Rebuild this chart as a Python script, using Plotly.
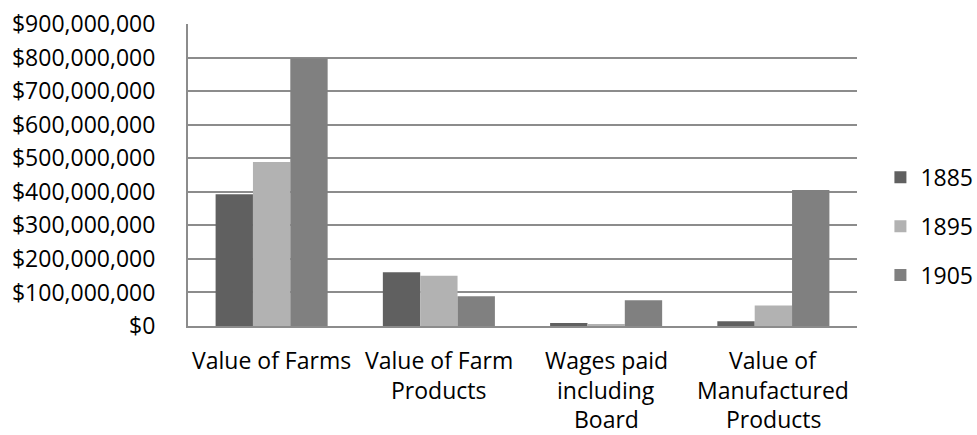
import plotly.graph_objects as go

categories = ["Value of Farms", "Value of Farm Products", "Wages paid including Board", "Value of Manufactured Products"]
label_lines = [["Value of Farms"], ["Value of Farm", "Products"], ["Wages paid", "including", "Board"], ["Value of", "Manufactured", "Products"]]
years = ["1885", "1895", "1905"]
values_1885 = [393_000_000, 160_000_000, 9_000_000, 14_000_000]
values_1895 = [489_000_000, 150_000_000, 6_000_000, 61_000_000]
values_1905 = [797_000_000, 89_000_000, 77_000_000, 405_000_000]
colors = ["#606060", "#b2b2b2", "#808080"]
y_ticks = list(range(0, 900_000_001, 100_000_000))

FONT = "Open Sans"
line_shifts = [-34, -64, -93]
fig = go.Figure()
for i, (yr, vals) in enumerate(zip(years, [values_1885, values_1895, values_1905])):
    fig.add_trace(go.Bar(x=categories, y=vals, name=yr, marker=dict(color=colors[i], line=dict(width=0)),
                         legendgroup=yr))

annotations = []
for cat, lines in zip(categories, label_lines):
    for j, ln in enumerate(lines):
        annotations.append(dict(x=cat, xref="x", y=0, yref="paper", text=ln, showarrow=False,
                                yanchor="middle", yshift=line_shifts[j],
                                font=dict(family=FONT, size=23, color="#000000")))

fig.update_layout(
    width=977, height=435,
    margin=dict(l=188, r=120, t=24, b=109, autoexpand=False),
    paper_bgcolor="white", plot_bgcolor="white",
    barmode="group", bargap=0.33, bargroupgap=0,
    font=dict(family=FONT, size=23, color="#000000"),
    showlegend=True,
    legend=dict(x=1.035, xanchor="left", y=0.33, yanchor="middle", tracegroupgap=16,
                font=dict(family=FONT, size=23, color="#000000"), bgcolor="rgba(0,0,0,0)"),
    annotations=annotations,
)
fig.update_xaxes(showticklabels=False, showgrid=False, showline=True, linecolor="#8c8c8c", linewidth=2,
                 ticks="", categoryorder="array", categoryarray=categories)
fig.update_yaxes(range=[0, 900_000_000], tickvals=y_ticks, tickformat="$,.0f",
                 showgrid=True, gridcolor="#8c8c8c", gridwidth=1.5,
                 showline=True, linecolor="#8c8c8c", linewidth=2, zeroline=False,
                 ticks="", ticklabelstandoff=26, tickfont=dict(family=FONT, size=23, color="#000000"))

fig.write_html("out.html")
